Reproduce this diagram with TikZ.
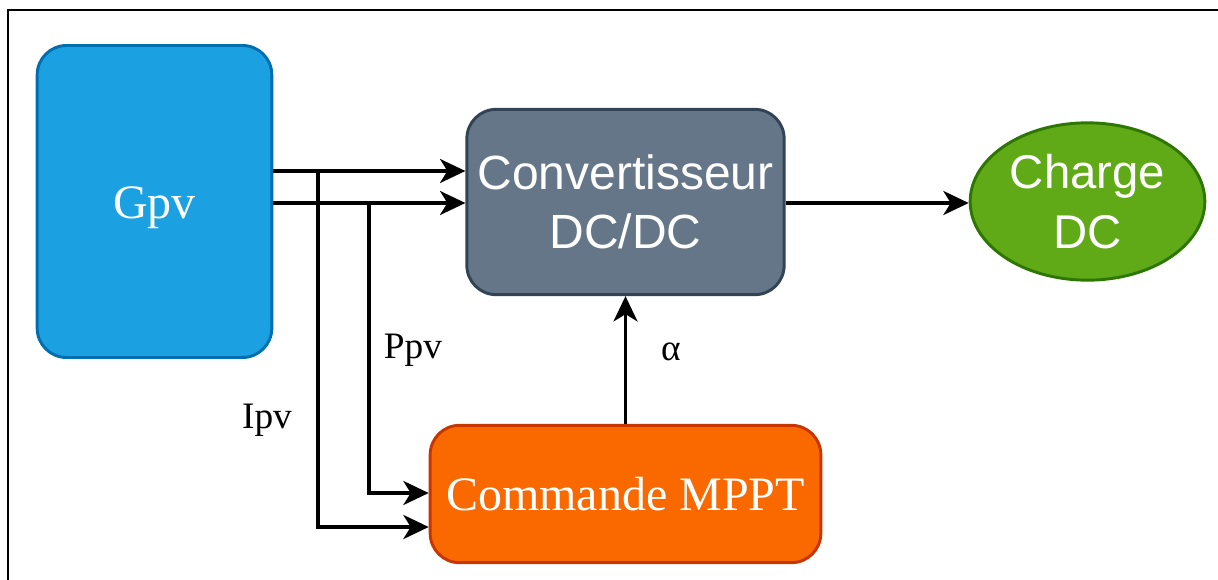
\documentclass[tikz,border=0pt]{standalone}
\usepackage{fontspec}
\setmainfont{Liberation Serif}
\newfontfamily\arialf{Liberation Sans}
\usetikzlibrary{arrows.meta,shapes.geometric}
\definecolor{gpvfill}{HTML}{1BA1E2}
\definecolor{gpvline}{HTML}{006EAF}
\definecolor{convfill}{HTML}{647687}
\definecolor{convline}{HTML}{314354}
\definecolor{chfill}{HTML}{60A917}
\definecolor{chline}{HTML}{2D7600}
\definecolor{mpfill}{HTML}{FA6800}
\definecolor{mpline}{HTML}{C73500}
\tikzset{
  blk/.style={rectangle, rounded corners=22pt, line width=2.2pt, inner sep=0pt, text=white},
  conn/.style={line width=2.6pt, -{Stealth[length=19pt, width=18pt, inset=5.5pt]}},
  lbl/.style={font=\fontsize{28}{32}\selectfont, text=black, inner sep=0pt}
}
\begin{document}
\begin{tikzpicture}[x=0.75pt, y=-0.75pt]
\useasboundingbox (0,0) rectangle (1218,579);
\begin{scope}
\clip (0,0) rectangle (1218,579);
\draw[line width=1.6pt] (8,600) -- (8,10) -- (1240,10);
\end{scope}

\node[blk, fill=gpvfill, draw=gpvline, minimum width=176pt, minimum height=234pt,
      text height=34pt, text depth=8pt,
      font=\fontsize{36}{44}\selectfont] (gpv) at (154.5,201.5) {Gpv};
\node[blk, fill=convfill, draw=convline, minimum width=238pt, minimum height=139pt,
      align=center, font=\arialf\fontsize{36}{44}\selectfont] (conv) at (625.5,202) {Convertisseur\\DC/DC};
\node[ellipse, fill=chfill, draw=chline, line width=2.2pt, inner sep=0pt,
      minimum width=176pt, minimum height=118pt, text=white,
      align=center, font=\arialf\fontsize{35.5}{45}\selectfont] (ch) at (1087.5,201.5) {Charge\\DC};
\node[blk, fill=mpfill, draw=mpline, minimum width=293pt, minimum height=103pt,
      font=\fontsize{36}{44}\selectfont] (mppt) at (625.5,494) {Commande MPPT};

\coordinate (ji) at (318,171);
\coordinate (jp) at (369,203);

\draw[conn] (gpv.east |- ji) -- (conv.west |- ji);
\draw[conn] (gpv.east |- jp) -- (conv.west |- jp);
\draw[conn] (ji) -- (318,527) -- (mppt.west |- 0,527);
\draw[conn] (jp) -- (369,493) -- (mppt.west |- 0,493);
\draw[conn] (mppt.north) -- (conv.south);
\draw[conn] (conv.east |- 0,203) -- (ch.west |- 0,203);

\node[lbl] (ppv) at (413,350) {Ppv};
\node[lbl] (ipv) at (267,420) {Ipv};
\node[lbl] (alpha) at (671,352) {α};
\end{tikzpicture}
\end{document}
